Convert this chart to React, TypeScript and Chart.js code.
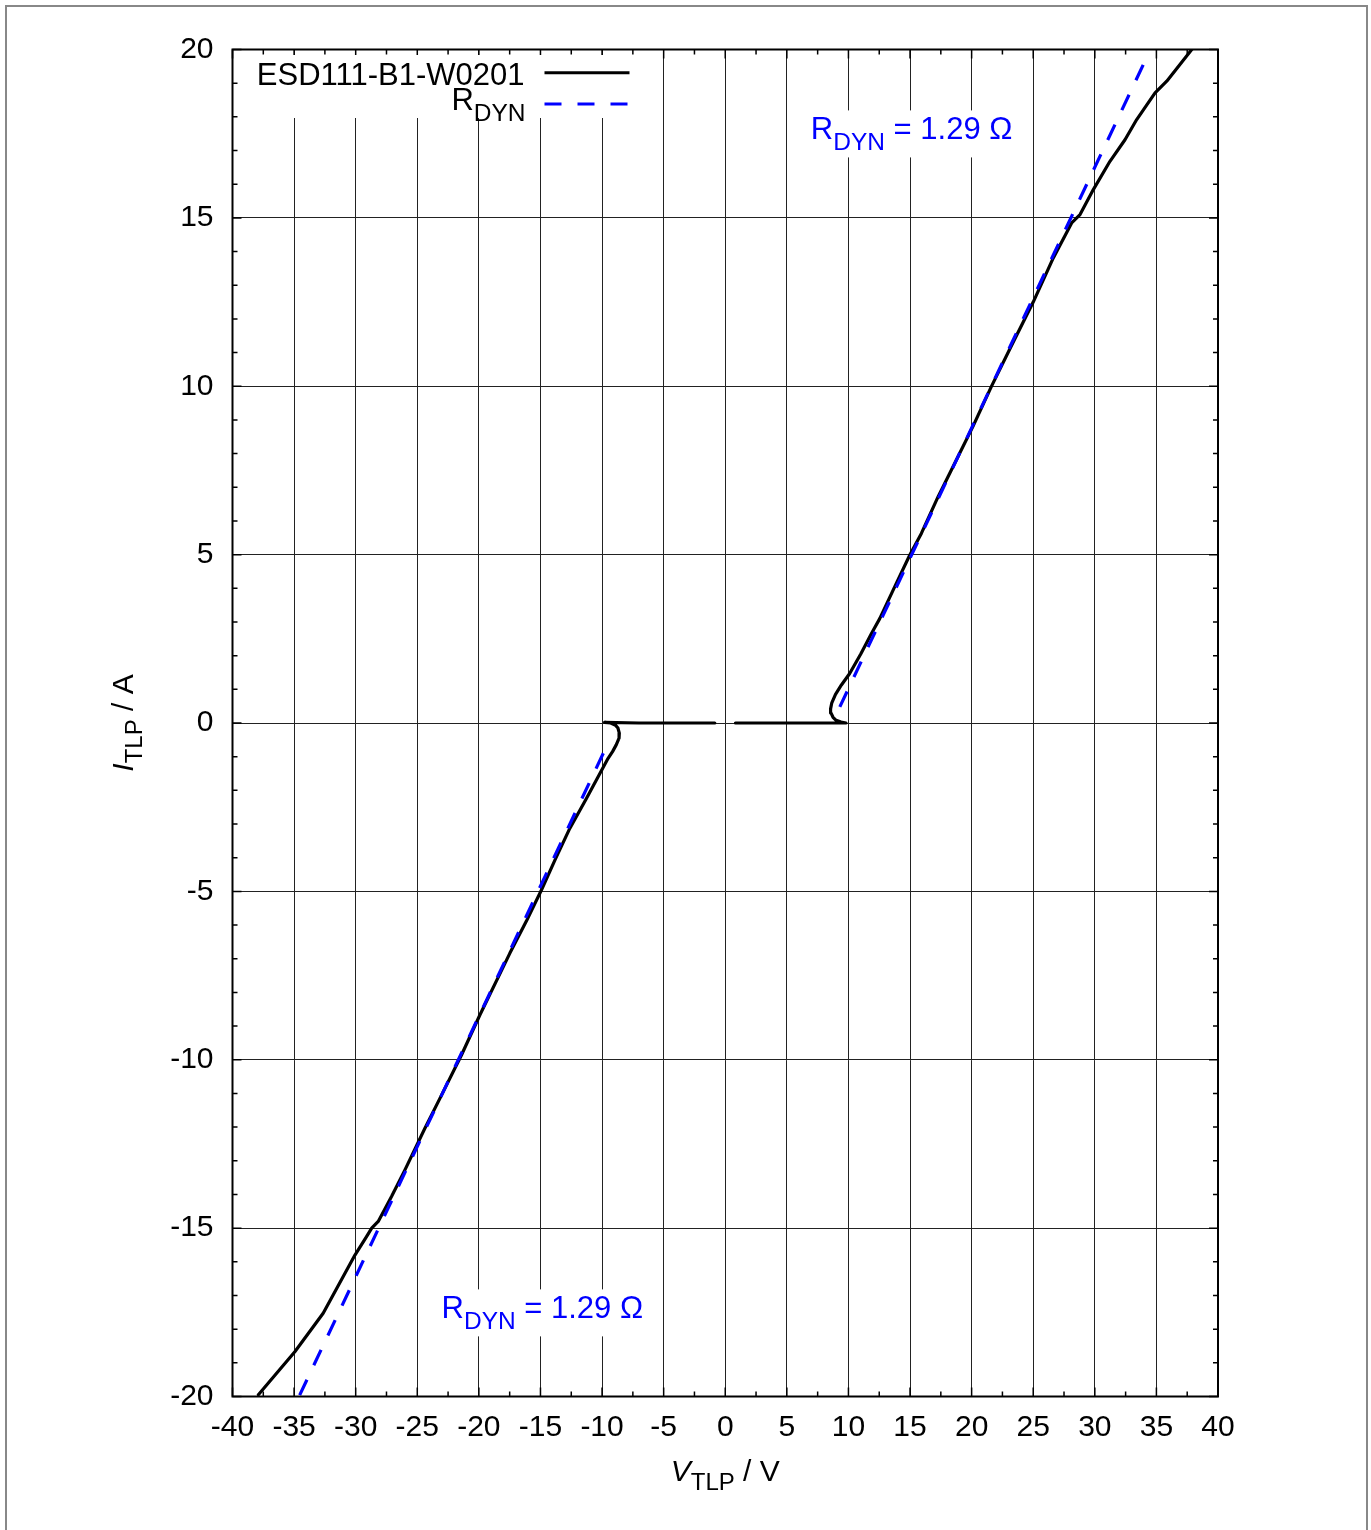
import { useEffect, useRef } from 'react'
import { Chart, registerables } from 'chart.js'

Chart.register(...registerables)

// TLP measurement, positive pulse (path order, includes snapback)
const posVoltage = [
  0.83, 3, 5, 7, 9.8, 9.4, 9.0, 8.75, 8.58, 8.55, 8.65, 8.95, 9.43, 10.1, 11.0, 11.87,
  12.54, 13.8, 14.98, 15.92, 17.28, 19.03, 20.1, 21.6, 23.2, 25.0, 26.63, 28.12, 28.8,
  29.88, 31.23, 32.45, 33.4, 34.89, 35.84, 37.87,
]
const posCurrent = [
  0, 0, 0, 0, 0, 0.03, 0.08, 0.17, 0.3, 0.42, 0.6, 0.85, 1.13, 1.47, 2.05, 2.66,
  3.1, 4.08, 4.99, 5.63, 6.72, 8.01, 8.8, 9.99, 11.18, 12.5, 13.81, 14.85, 15.1,
  15.84, 16.68, 17.32, 17.92, 18.71, 19.06, 20.0,
]

// negative pulse
const negVoltage = [
  -0.85, -3, -5, -7, -9.8, -9.3, -8.9, -8.71, -8.6, -8.62, -8.85, -9.15, -9.51, -11.27,
  -12.62, -13.8, -14.92, -16.1, -17.49, -19.92, -21.41, -23.03, -24.39, -26.0, -27.09,
  -28.17, -28.7, -29.12, -30.06, -32.64, -34.94, -37.9,
]
const negCurrent = [
  0, 0, 0, 0, 0.02, 0, -0.07, -0.15, -0.3, -0.45, -0.65, -0.85, -1.05, -2.24,
  -3.13, -4.05, -4.96, -5.85, -6.84, -8.67, -9.86, -11.05, -12.04, -13.27, -14.06,
  -14.8, -15.0, -15.25, -15.8, -17.53, -18.67, -19.95,
]

// R_DYN fit lines
const fitPosVoltage = [9.3, 34.0]
const fitPosCurrent = [0.48, 19.6]
const fitNegVoltage = [-9.9, -34.6]
const fitNegCurrent = [-0.9, -20.0]

const DEVICE = 'ESD111-B1-W0201'
const RDYN_VALUE = ' = 1.29 Ω'
// label anchors in data units (left, baseline)
const labelTop = { v: 6.95, i: 17.33 }
const labelBottom = { v: -23.03, i: -17.68 }

const FONT = "'Liberation Sans', Arial, Helvetica, sans-serif"
const BLUE = '#0000ff'

interface Run {
  text: string
  size: number
  italic?: boolean
  shift?: number
}

const rdynRuns: Run[] = [
  { text: 'R', size: 31 },
  { text: 'DYN', size: 24.5, shift: 10.5 },
  { text: RDYN_VALUE, size: 31 },
]
const xTitleRuns: Run[] = [
  { text: 'V', size: 30, italic: true },
  { text: 'TLP', size: 24, shift: 8.5 },
  { text: ' / V', size: 30 },
]
const yTitleRuns: Run[] = [
  { text: 'I', size: 30, italic: true },
  { text: 'TLP', size: 24, shift: 8.5 },
  { text: ' / A', size: 30 },
]

function runFont(r: Run) {
  return `${r.italic ? 'italic ' : ''}${r.size}px ${FONT}`
}

function runsWidth(ctx: CanvasRenderingContext2D, runs: Run[]) {
  let w = 0
  for (const r of runs) {
    ctx.font = runFont(r)
    w += ctx.measureText(r.text).width
  }
  return w
}

function drawRuns(ctx: CanvasRenderingContext2D, runs: Run[], x: number, y: number, color: string) {
  ctx.fillStyle = color
  ctx.textAlign = 'left'
  ctx.textBaseline = 'alphabetic'
  let cx = x
  for (const r of runs) {
    ctx.font = runFont(r)
    ctx.fillText(r.text, cx, y + (r.shift ?? 0))
    cx += ctx.measureText(r.text).width
  }
}

function pts(xs: number[], ys: number[]) {
  return xs.map((x, k) => ({ x, y: ys[k] }))
}

// eslint-disable-next-line @typescript-eslint/no-explicit-any
function labelBoxes(chart: any) {
  const { ctx, scales } = chart
  return [labelTop, labelBottom].map((p) => {
    const x = scales.x.getPixelForValue(p.v)
    const y = scales.y.getPixelForValue(p.i)
    const w = runsWidth(ctx, rdynRuns)
    return { x, y, box: [x - 16, y - 29, w + 31, 47] }
  })
}

const gnuplotLook = {
  id: 'gnuplotLook',
  // eslint-disable-next-line @typescript-eslint/no-explicit-any
  beforeDatasetsDraw(chart: any) {
    const { ctx, chartArea: a, scales } = chart
    const xs = scales.x
    const ys = scales.y
    ctx.save()
    ctx.strokeStyle = '#000'
    ctx.lineWidth = 1.5
    ctx.beginPath()
    for (let v = xs.min; v <= xs.max + 1e-9; v += 2.5) {
      const px = xs.getPixelForValue(v)
      const len = Math.abs(v % 5) < 1e-9 ? 9 : 5
      ctx.moveTo(px, a.bottom)
      ctx.lineTo(px, a.bottom - len)
      ctx.moveTo(px, a.top)
      ctx.lineTo(px, a.top + len)
    }
    for (let v = ys.min; v <= ys.max + 1e-9; v += 1) {
      const py = ys.getPixelForValue(v)
      const len = Math.abs(v % 5) < 1e-9 ? 9 : 5
      ctx.moveTo(a.left, py)
      ctx.lineTo(a.left + len, py)
      ctx.moveTo(a.right, py)
      ctx.lineTo(a.right - len, py)
    }
    ctx.stroke()

    // opaque key and labels
    ctx.fillStyle = '#fff'
    ctx.fillRect(a.left + 8, a.top + 5.5, 400, 63)
    for (const l of labelBoxes(chart)) {
      const [bx, by, bw, bh] = l.box
      ctx.fillRect(bx, by, bw, bh)
    }
    ctx.restore()
  },
  // eslint-disable-next-line @typescript-eslint/no-explicit-any
  afterDraw(chart: any) {
    const { ctx, chartArea: a } = chart
    ctx.save()

    // frame
    ctx.strokeStyle = '#000'
    ctx.lineWidth = 2
    ctx.strokeRect(a.left, a.top, a.right - a.left, a.bottom - a.top)

    // key
    const textRight = a.left + 292
    ctx.font = `31px ${FONT}`
    ctx.fillStyle = '#000'
    ctx.textAlign = 'right'
    ctx.textBaseline = 'alphabetic'
    ctx.fillText(DEVICE, textRight, a.top + 35.5)
    ctx.beginPath()
    ctx.lineWidth = 3
    ctx.moveTo(a.left + 312, a.top + 23.2)
    ctx.lineTo(a.left + 397, a.top + 23.2)
    ctx.stroke()

    const keyRuns: Run[] = [rdynRuns[0], rdynRuns[1]]
    drawRuns(ctx, keyRuns, textRight + 1 - runsWidth(ctx, keyRuns), a.top + 60.5, '#000')
    ctx.beginPath()
    ctx.strokeStyle = BLUE
    ctx.setLineDash([17, 16])
    ctx.moveTo(a.left + 312, a.top + 54.5)
    ctx.lineTo(a.left + 395, a.top + 54.5)
    ctx.stroke()
    ctx.setLineDash([])

    // R_DYN labels
    for (const l of labelBoxes(chart)) drawRuns(ctx, rdynRuns, l.x, l.y, BLUE)

    // axis titles
    const cx = (a.left + a.right) / 2
    const cy = (a.top + a.bottom) / 2
    drawRuns(ctx, xTitleRuns, cx - runsWidth(ctx, xTitleRuns) / 2, a.bottom + 84.5, '#000')
    ctx.translate(a.left - 99.5, cy)
    ctx.rotate(-Math.PI / 2)
    drawRuns(ctx, yTitleRuns, -runsWidth(ctx, yTitleRuns) / 2, 0, '#000')
    ctx.restore()
  },
}

function TlpChart() {
  const canvasRef = useRef<HTMLCanvasElement | null>(null)
  const chartRef = useRef<Chart | null>(null)

  useEffect(() => {
    if (!canvasRef.current) return
    const ctx = canvasRef.current.getContext('2d')
    if (!ctx) return

    const tickFont = { family: FONT, size: 30 }
    const black = { borderColor: '#000', borderWidth: 3.2, showLine: true, pointRadius: 0, tension: 0, borderJoinStyle: 'round' as const, borderCapStyle: 'round' as const }
    const dashed = { borderColor: BLUE, borderWidth: 3.2, showLine: true, pointRadius: 0, borderDash: [17, 16] }

    chartRef.current = new Chart(ctx, {
      type: 'scatter',
      data: {
        datasets: [
          { label: 'R_DYN +', data: pts(fitPosVoltage, fitPosCurrent), ...dashed },
          { label: 'R_DYN -', data: pts(fitNegVoltage, fitNegCurrent), ...dashed },
          { label: DEVICE, data: pts(posVoltage, posCurrent), ...black },
          { label: DEVICE + ' neg', data: pts(negVoltage, negCurrent), ...black },
        ],
      },
      options: {
        animation: false,
        responsive: false,
        layout: { padding: { top: 49.5, right: 153, left: 0, bottom: 0 } },
        scales: {
          x: {
            type: 'linear',
            min: -40,
            max: 40,
            border: { display: false },
            grid: { color: '#222', lineWidth: 1, drawTicks: false },
            ticks: { stepSize: 5, color: '#000', font: tickFont, padding: 13, maxRotation: 0 },
            // eslint-disable-next-line @typescript-eslint/no-explicit-any
            afterFit: (s: any) => { s.height = 133.5 },
          },
          y: {
            type: 'linear',
            min: -20,
            max: 20,
            border: { display: false },
            grid: { color: '#222', lineWidth: 1, drawTicks: false },
            ticks: { stepSize: 5, color: '#000', font: tickFont, padding: 19 },
            // eslint-disable-next-line @typescript-eslint/no-explicit-any
            afterFit: (s: any) => { s.width = 232.5 },
          },
        },
        plugins: {
          legend: { display: false },
          tooltip: { enabled: false },
        },
      },
      plugins: [gnuplotLook],
    })

    return () => {
      chartRef.current?.destroy()
      chartRef.current = null
    }
  }, [])

  return <canvas ref={canvasRef} width={1371} height={1530} style={{ position: 'absolute', left: 0, top: 0 }} />
}

export default function App() {
  return (
    <div style={{ position: 'absolute', left: 0, top: 0, width: 1371, height: 1530, overflow: 'hidden', background: '#fff' }}>
      <div style={{ position: 'absolute', left: 5, top: 5, width: 1359, height: 1600, border: '2px solid #888' }} />
      <TlpChart />
    </div>
  )
}
